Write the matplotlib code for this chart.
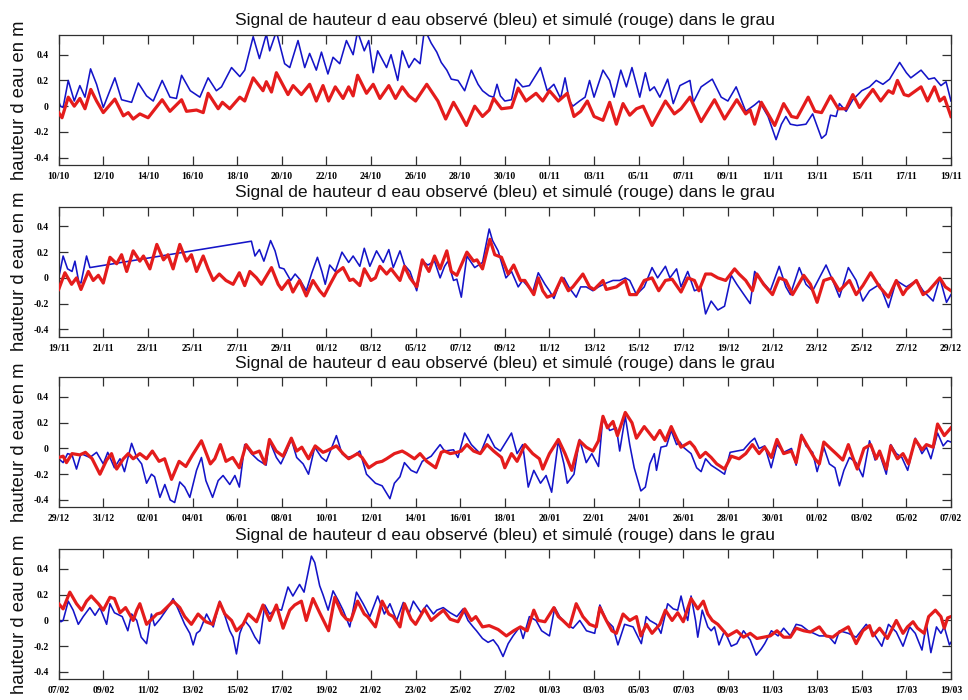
import matplotlib
matplotlib.use("Agg")
import matplotlib.pyplot as plt

TITLE = "Signal de hauteur d eau observé (bleu) et simulé (rouge) dans le grau"
YLABEL = "hauteur d eau en m"
ytick_vals = [-0.4, -0.2, 0, 0.2, 0.4]
ytick_labels = ["-0.4", "-0.2", "0", "0.2", "0.4"]
xtick_days = list(range(0, 41, 2))

xlabels1 = ["10/10", "12/10", "14/10", "16/10", "18/10", "20/10", "22/10", "24/10", "26/10", "28/10", "30/10",
            "01/11", "03/11", "05/11", "07/11", "09/11", "11/11", "13/11", "15/11", "17/11", "19/11"]
xlabels2 = ["19/11", "21/11", "23/11", "25/11", "27/11", "29/11", "01/12", "03/12", "05/12", "07/12", "09/12",
            "11/12", "13/12", "15/12", "17/12", "19/12", "21/12", "23/12", "25/12", "27/12", "29/12"]
xlabels3 = ["29/12", "31/12", "02/01", "04/01", "06/01", "08/01", "10/01", "12/01", "14/01", "16/01", "18/01",
            "20/01", "22/01", "24/01", "26/01", "28/01", "30/01", "01/02", "03/02", "05/02", "07/02"]
xlabels4 = ["07/02", "09/02", "11/02", "13/02", "15/02", "17/02", "19/02", "21/02", "23/02", "25/02", "27/02",
            "01/03", "03/03", "05/03", "07/03", "09/03", "11/03", "13/03", "15/03", "17/03", "19/03"]

# (day offset from panel start, water level in m)
sim1 = [(0,-0.05),(0.15,-0.09),(0.43,0.07),(0.7,0.0),(0.95,0.06),(1.18,-0.02),(1.44,0.13),(1.7,0.04),(2.0,-0.05),(2.52,0.055),
        (2.9,-0.075),(3.12,-0.05),(3.34,-0.10),(3.64,-0.06),(4.01,-0.09),(4.64,0.05),(4.99,-0.04),(5.51,0.05),(5.73,-0.04),(6.18,-0.03),
        (6.48,-0.05),(6.7,0.10),(7.15,-0.02),(7.34,0.03),(7.67,-0.02),(8.12,0.07),(8.34,0.04),(8.72,0.22),(9.16,0.12),(9.31,0.19),
        (9.54,0.11),(9.76,0.26),(10.28,0.09),(10.51,0.16),(10.88,0.09),(11.25,0.17),(11.55,0.04),(11.85,0.16),(12.1,0.04),(12.4,0.15),
        (12.75,0.06),(13.0,0.15),(13.2,0.08),(13.4,0.24),(13.8,0.10),(14.1,0.17),(14.4,0.06),(14.8,0.16),(15.1,0.06),(15.4,0.15),
        (15.7,0.08),(16.0,0.04),(16.5,0.17),(17.0,0.04),(17.35,-0.10),(17.7,0.03),(18.0,-0.06),(18.28,-0.15),(18.65,0.0),(19.0,-0.08),
        (19.3,-0.03),(19.5,0.06),(19.85,-0.02),(20.3,-0.01),(20.6,0.14),(20.95,0.04),(21.4,0.10),(21.7,0.04),(22.0,0.12),(22.4,0.04),
        (22.8,0.10),(23.1,-0.08),(23.4,-0.04),(23.7,0.04),(24.0,-0.08),(24.4,-0.11),(24.7,0.03),(25.0,-0.14),(25.3,0.02),(25.6,-0.07),
        (25.9,-0.02),(26.2,0.0),(26.6,-0.15),(27.2,0.04),(27.6,-0.06),(27.9,-0.02),(28.3,0.07),(28.8,-0.12),(29.4,0.05),(29.85,-0.10),
        (30.4,0.05),(30.8,-0.06),(31.0,-0.03),(31.2,-0.14),(31.5,0.03),(32.1,-0.15),(32.5,0.02),(32.85,-0.08),(33.1,-0.09),(33.6,0.07),
        (33.9,-0.04),(34.2,-0.05),(34.6,0.08),(34.95,-0.02),(35.3,-0.02),(35.6,0.09),(35.9,-0.01),(36.1,0.04),(36.5,0.13),(36.85,0.04),
        (37.2,0.12),(37.4,0.10),(37.6,0.20),(37.9,0.09),(38.1,0.08),(38.66,0.15),(38.95,0.04),(39.26,0.15),(39.5,0.04),(39.7,0.07),(40.0,-0.08)]

obs1 = [(0,0.04),(0.08,0.0),(0.2,-0.01),(0.43,0.2),(0.7,0.04),(0.95,0.16),(1.18,0.07),(1.43,0.29),(1.7,0.17),(2.0,-0.01),
        (2.52,0.22),(2.82,0.05),(3.05,0.04),(3.27,0.03),(3.57,0.18),(3.94,0.08),(4.24,0.04),(4.64,0.2),(4.99,0.07),(5.28,0.06),
        (5.51,0.24),(5.9,0.12),(6.33,0.07),(6.7,0.22),(7.07,0.12),(7.3,0.15),(7.75,0.3),(8.12,0.23),(8.34,0.28),(8.72,0.54),
        (9.0,0.37),(9.31,0.56),(9.46,0.43),(9.76,0.58),(10.13,0.33),(10.36,0.3),(10.73,0.51),(11.03,0.3),(11.25,0.41),(11.55,0.28),
        (11.78,0.42),(12.07,0.25),(12.3,0.38),(12.6,0.33),(12.9,0.51),(13.2,0.4),(13.4,0.58),(13.7,0.43),(13.9,0.51),(14.1,0.26),
        (14.3,0.43),(14.7,0.3),(14.9,0.4),(15.2,0.2),(15.4,0.43),(15.7,0.3),(15.95,0.37),(16.2,0.33),(16.4,0.6),(16.7,0.49),
        (16.95,0.42),(17.15,0.34),(17.4,0.28),(17.6,0.21),(17.9,0.2),(18.2,0.12),(18.5,0.28),(18.8,0.17),(19.0,0.12),(19.3,0.08),
        (19.5,0.07),(19.65,0.17),(19.8,0.08),(20.0,0.04),(20.3,0.05),(20.5,0.21),(20.8,0.15),(21.1,0.16),(21.6,0.3),(21.9,0.12),
        (22.2,0.17),(22.5,0.06),(22.7,0.22),(22.9,0.04),(23.05,0.0),(23.35,0.04),(23.6,0.07),(23.8,0.2),(24.0,0.07),(24.4,0.28),
        (24.7,0.2),(24.9,0.07),(25.2,0.28),(25.45,0.15),(25.7,0.3),(26.05,0.07),(26.3,0.26),(26.5,0.12),(26.7,0.15),(26.95,0.07),
        (27.3,0.21),(27.55,0.02),(27.85,0.16),(28.3,0.2),(28.45,0.03),(28.8,0.15),(29.3,0.21),(29.7,0.07),(30.0,0.04),(30.37,0.15),
        (30.8,-0.04),(31.2,0.01),(31.4,0.04),(31.8,-0.08),(32.16,-0.26),(32.4,-0.14),(32.6,-0.08),(32.8,-0.14),(33.1,-0.15),(33.5,-0.14),
        (33.8,-0.06),(34.2,-0.25),(34.4,-0.22),(34.6,-0.07),(34.85,-0.08),(35.0,0.02),(35.3,-0.04),(35.6,0.05),(36.0,0.12),(36.35,0.15),
        (36.65,0.2),(36.95,0.17),(37.25,0.21),(37.7,0.34),(38.0,0.26),(38.2,0.22),(38.66,0.28),(39.0,0.21),(39.26,0.22),(39.55,0.16),
        (39.78,0.19),(40.0,0.04)]

sim2 = [(0,-0.09),(0.28,0.04),(0.58,-0.05),(0.8,0.0),(1.0,-0.09),(1.33,0.05),(1.55,-0.02),(1.78,0.02),(2.0,-0.04),(2.3,0.16),
        (2.6,0.11),(2.82,0.18),(3.05,0.05),(3.34,0.21),(3.64,0.13),(3.8,0.17),(4.09,0.07),(4.4,0.26),(4.7,0.14),(4.9,0.18),
        (5.13,0.07),(5.43,0.26),(5.73,0.13),(5.95,0.18),(6.18,0.05),(6.48,0.17),(6.7,0.07),(6.93,-0.02),(7.2,0.03),(7.5,-0.02),
        (7.82,-0.05),(8.1,0.04),(8.34,-0.06),(8.57,0.05),(8.87,0.0),(9.09,-0.05),(9.54,0.08),(9.84,-0.05),(10.0,-0.09),(10.3,-0.02),
        (10.5,-0.11),(10.8,-0.02),(11.1,-0.14),(11.4,-0.02),(11.7,-0.1),(11.9,-0.14),(12.2,-0.04),(12.45,0.04),(12.75,0.08),(13.05,-0.02),
        (13.2,-0.01),(13.5,-0.06),(13.7,0.07),(14.0,-0.02),(14.2,0.0),(14.4,0.09),(14.7,0.03),(14.9,0.07),(15.3,-0.02),(15.5,0.09),
        (15.75,0.0),(16.05,-0.07),(16.3,0.14),(16.6,0.05),(16.85,0.17),(17.1,0.07),(17.4,0.21),(17.6,0.05),(17.85,0.02),(18.3,0.2),
        (18.6,0.13),(18.75,0.14),(19.0,0.07),(19.33,0.3),(19.55,0.18),(19.85,0.16),(20.15,0.03),(20.4,0.1),(20.7,-0.02),(20.9,-0.02),
        (21.3,-0.13),(21.5,0.0),(21.7,-0.1),(21.9,-0.15),(22.2,-0.13),(22.55,0.0),(22.85,-0.1),(23.05,-0.07),(23.5,0.03),(23.8,-0.07),
        (24.0,-0.09),(24.4,-0.02),(24.55,-0.09),(25.0,-0.07),(25.4,-0.02),(25.6,-0.13),(25.9,-0.13),(26.25,-0.02),(26.6,0.0),(26.9,-0.1),
        (27.2,-0.02),(27.5,-0.01),(27.9,-0.11),(28.2,0.0),(28.5,-0.02),(28.7,-0.1),(29.0,0.03),(29.25,0.03),(29.55,0.0),(29.9,-0.02),
        (30.3,0.07),(30.5,0.03),(30.8,-0.02),(31.1,-0.1),(31.3,0.03),(31.6,-0.05),(32.0,-0.13),(32.3,0.0),(32.6,-0.02),(32.9,-0.13),
        (33.4,0.02),(33.7,-0.05),(34.0,-0.19),(34.3,-0.02),(34.65,0.0),(35.0,-0.1),(35.45,-0.02),(35.75,-0.13),(36.05,-0.06),(36.4,0.04),
        (36.8,-0.07),(37.2,-0.15),(37.55,-0.02),(37.85,-0.13),(38.0,-0.09),(38.45,-0.02),(38.75,-0.13),(39.0,-0.1),(39.5,0.0),(39.75,-0.07),
        (40.0,-0.1)]

obs2 = [(0,0.0),(0.05,0.04),(0.2,0.17),(0.4,0.07),(0.6,0.05),(0.73,0.13),(0.9,-0.03),(1.0,-0.04),(1.25,0.17),(1.4,0.08),
        (8.64,0.285),(8.8,0.17),(9.0,0.22),(9.2,0.13),(9.5,0.29),(9.7,0.21),(9.9,0.08),(10.1,0.07),(10.4,-0.02),(10.6,0.03),
        (10.8,-0.01),(11.1,-0.1),(11.35,0.04),(11.6,0.16),(11.8,0.05),(11.95,-0.05),(12.15,0.1),(12.4,0.05),(12.7,0.2),(13.0,0.12),
        (13.2,0.17),(13.5,0.09),(13.7,0.23),(13.95,0.09),(14.25,0.21),(14.55,0.12),(14.8,0.22),(15.0,0.08),(15.3,0.21),(15.5,0.1),
        (15.75,0.05),(16.05,-0.1),(16.3,0.13),(16.55,0.1),(16.85,0.13),(17.1,0.0),(17.3,0.09),(17.45,0.13),(17.7,-0.02),(17.85,-0.01),
        (18.05,-0.15),(18.3,0.17),(18.65,0.08),(19.0,0.12),(19.3,0.38),(19.45,0.29),(19.7,0.21),(19.85,0.12),(20.05,0.0),(20.3,0.05),
        (20.6,-0.07),(20.8,-0.02),(21.25,-0.11),(21.5,0.04),(21.8,-0.05),(22.0,-0.1),(22.2,-0.16),(22.5,-0.02),(22.65,0.0),(22.9,-0.08),
        (23.2,-0.15),(23.4,-0.07),(23.65,-0.07),(23.95,-0.1),(24.2,-0.07),(24.55,-0.04),(24.85,-0.02),(25.15,-0.02),(25.4,0.0),(25.6,-0.02),
        (25.9,-0.13),(26.25,-0.07),(26.6,0.08),(26.85,0.0),(27.2,0.09),(27.4,0.0),(27.7,0.07),(27.9,-0.07),(28.2,0.05),(28.5,-0.1),
        (28.8,-0.08),(29.0,-0.28),(29.25,-0.18),(29.55,-0.25),(29.85,-0.22),(30.15,0.02),(30.4,-0.05),(30.6,-0.1),(31.0,-0.2),(31.2,0.05),
        (31.5,-0.02),(31.9,-0.1),(32.3,0.09),(32.6,-0.07),(32.8,-0.13),(33.2,0.08),(33.5,-0.05),(33.8,-0.1),(34.4,0.1),(34.7,-0.02),
        (35.0,-0.15),(35.4,0.08),(35.75,-0.02),(36.05,-0.18),(36.35,-0.1),(36.8,-0.05),(37.2,-0.23),(37.55,-0.02),(38.0,-0.07),(38.45,-0.02),
        (38.75,-0.1),(39.2,-0.18),(39.5,0.0),(39.8,-0.19),(40.0,-0.13)]

sim3 = [(0,-0.07),(0.2,-0.06),(0.35,-0.11),(0.6,-0.04),(0.95,-0.05),(1.2,-0.03),(1.5,-0.08),(1.85,-0.2),(2.15,-0.09),(2.37,-0.04),
        (2.6,-0.16),(2.9,-0.08),(3.12,-0.04),(3.34,-0.08),(3.64,-0.04),(3.94,-0.08),(4.2,-0.02),(4.5,-0.1),(4.75,-0.08),(5.06,-0.24),
        (5.4,-0.1),(5.7,-0.14),(6.0,-0.05),(6.4,0.06),(6.8,-0.12),(7.0,-0.08),(7.25,0.03),(7.5,-0.1),(7.8,-0.07),(8.1,-0.15),
        (8.4,0.03),(8.7,-0.04),(9.0,-0.02),(9.25,-0.12),(9.45,0.07),(9.75,-0.02),(10.06,-0.06),(10.43,0.08),(10.67,-0.02),(10.9,0.01),
        (11.2,-0.08),(11.5,0.02),(11.85,-0.03),(12.0,-0.02),(12.45,0.02),(12.75,-0.04),(13.0,-0.08),(13.4,-0.04),(13.6,-0.07),(13.9,-0.15),
        (14.25,-0.11),(14.5,-0.1),(14.7,-0.08),(15.05,-0.04),(15.4,-0.02),(15.6,-0.04),(15.95,-0.08),(16.2,-0.04),(16.5,-0.1),(16.9,-0.15),
        (17.15,-0.03),(17.3,-0.02),(17.55,-0.04),(17.85,-0.03),(18.05,-0.02),(18.3,0.03),(18.6,-0.02),(18.9,-0.04),(19.2,0.03),(19.5,-0.02),
        (19.85,-0.07),(20.0,-0.15),(20.3,-0.04),(20.55,-0.1),(20.9,0.03),(21.25,-0.04),(21.55,-0.08),(21.7,-0.16),(22.0,-0.04),(22.4,0.07),
        (22.7,-0.04),(23.0,-0.17),(23.35,0.06),(23.65,0.01),(23.95,-0.02),(24.2,0.06),(24.4,0.25),(24.6,0.16),(24.85,0.21),(25.05,0.1),
        (25.4,0.28),(25.7,0.2),(25.9,0.08),(26.25,0.17),(26.7,0.07),(26.95,0.14),(27.2,0.06),(27.46,0.17),(27.7,0.08),(27.9,0.01),
        (28.3,0.05),(28.5,0.01),(28.75,-0.07),(29.0,-0.03),(29.25,-0.07),(29.5,-0.12),(29.85,-0.16),(30.15,-0.06),(30.5,-0.08),(30.8,-0.04),
        (31.1,0.03),(31.4,-0.04),(31.65,0.01),(31.95,-0.07),(32.2,0.07),(32.5,-0.04),(32.85,-0.02),(33.06,-0.11),(33.3,0.1),(33.6,0.01),
        (33.9,-0.08),(34.1,-0.12),(34.3,0.05),(34.6,0.0),(34.85,-0.04),(35.15,-0.09),(35.4,0.03),(35.6,-0.07),(35.8,-0.16),(36.1,0.0),
        (36.4,0.03),(36.65,-0.08),(36.8,-0.02),(37.1,-0.16),(37.3,0.02),(37.6,-0.08),(37.85,-0.04),(38.1,-0.12),(38.4,0.07),(38.7,-0.01),
        (38.9,0.03),(39.2,0.01),(39.4,0.19),(39.7,0.1),(40.0,0.16)]

obs3 = [(0,-0.08),(0.2,-0.11),(0.4,-0.04),(0.6,-0.05),(0.8,-0.16),(1.0,-0.04),(1.4,-0.07),(1.7,-0.03),(2.0,-0.12),(2.2,-0.03),
        (2.5,-0.15),(2.75,-0.08),(2.95,-0.18),(3.27,0.04),(3.5,-0.07),(3.72,-0.12),(3.94,-0.27),(4.16,-0.2),(4.3,-0.22),(4.54,-0.38),
        (4.76,-0.28),(5.0,-0.4),(5.2,-0.42),(5.43,-0.26),(5.65,-0.3),(5.88,-0.38),(6.18,-0.17),(6.4,-0.07),(6.6,-0.25),(6.9,-0.38),
        (7.15,-0.25),(7.37,-0.21),(7.67,-0.28),(7.9,-0.21),(8.1,-0.3),(8.34,0.03),(8.64,-0.04),(8.94,-0.09),(9.3,-0.13),(9.45,0.06),
        (9.76,-0.07),(9.96,-0.12),(10.2,-0.03),(10.43,0.07),(10.67,-0.07),(10.96,-0.12),(11.2,-0.2),(11.48,0.01),(11.78,-0.07),(12.0,-0.1),
        (12.45,0.1),(12.7,-0.04),(12.9,-0.07),(13.2,-0.06),(13.5,-0.02),(13.8,-0.2),(14.2,-0.27),(14.5,-0.29),(14.85,-0.39),(15.05,-0.27),
        (15.3,-0.22),(15.5,-0.11),(15.8,-0.17),(16.05,-0.19),(16.3,-0.1),(16.7,-0.06),(17.1,0.03),(17.3,-0.02),(17.7,-0.01),(17.9,-0.07),
        (18.2,0.12),(18.5,0.03),(18.9,-0.04),(19.25,0.11),(19.55,0.01),(19.8,-0.02),(20.3,0.12),(20.55,-0.04),(20.8,0.03),(21.05,-0.3),
        (21.3,-0.17),(21.6,-0.27),(21.85,-0.21),(22.1,-0.34),(22.4,0.06),(22.65,-0.12),(22.8,-0.27),(23.1,-0.2),(23.35,0.07),(23.65,-0.11),
        (23.9,-0.04),(24.2,-0.14),(24.4,0.25),(24.7,0.14),(25.0,0.16),(25.15,-0.02),(25.4,0.25),(25.6,0.03),(25.8,-0.15),(26.1,-0.33),
        (26.3,-0.3),(26.5,-0.12),(26.7,-0.04),(26.8,-0.17),(27.0,0.01),(27.25,0.02),(27.46,0.14),(27.7,0.03),(27.85,0.05),(28.0,0.01),
        (28.35,-0.04),(28.6,-0.15),(28.8,-0.18),(29.0,-0.08),(29.25,-0.13),(29.6,-0.17),(29.85,-0.2),(30.1,-0.03),(30.4,-0.02),(30.7,-0.01),
        (31.0,0.05),(31.2,0.08),(31.4,0.0),(31.65,0.02),(31.94,-0.15),(32.2,0.03),(32.5,-0.03),(32.85,0.0),(33.06,-0.13),(33.3,0.11),
        (33.5,0.02),(33.8,-0.03),(34.0,-0.18),(34.3,0.01),(34.55,-0.12),(34.8,-0.15),(35.0,-0.29),(35.2,-0.17),(35.45,-0.07),(35.75,-0.11),
        (36.05,-0.22),(36.35,0.06),(36.6,-0.09),(36.8,-0.04),(37.1,-0.2),(37.3,0.03),(37.55,-0.04),(37.8,-0.07),(38.06,-0.17),(38.4,0.08),
        (38.7,-0.04),(38.9,0.01),(39.1,-0.08),(39.4,0.12),(39.65,0.02),(39.85,0.06),(40.0,0.05)]

sim4 = [(0,0.13),(0.2,0.09),(0.5,0.22),(0.8,0.13),(1.03,0.08),(1.25,0.15),(1.46,0.19),(1.78,0.13),(2.0,0.08),(2.3,0.18),
        (2.5,0.17),(2.75,0.06),(3.0,0.1),(3.34,0.0),(3.5,0.08),(3.64,0.13),(3.94,-0.03),(4.4,0.05),(4.6,0.06),(4.84,0.1),
        (5.13,0.15),(5.43,0.1),(5.65,0.03),(5.95,-0.03),(6.25,0.05),(6.6,-0.01),(6.9,-0.03),(7.22,0.14),(7.45,0.05),(7.75,0.0),
        (7.97,-0.08),(8.27,-0.03),(8.5,0.05),(8.87,-0.01),(9.16,0.12),(9.46,0.0),(9.76,0.12),(10.06,-0.06),(10.36,0.08),(10.58,0.12),
        (10.88,0.15),(11.1,0.0),(11.4,0.17),(11.7,0.06),(12.1,-0.08),(12.38,0.18),(12.7,0.05),(12.9,0.01),(13.1,0.0),(13.4,0.15),
        (13.7,0.05),(13.85,0.03),(14.2,-0.05),(14.5,0.15),(14.8,0.05),(15.0,0.03),(15.3,-0.05),(15.5,0.13),(15.8,0.01),(16.0,-0.03),
        (16.4,0.09),(16.7,0.0),(16.9,0.03),(17.25,0.08),(17.55,0.01),(17.9,-0.01),(18.2,0.09),(18.5,0.0),(18.7,0.03),(19.0,-0.05),
        (19.3,-0.04),(19.7,-0.07),(20.07,-0.12),(20.4,-0.08),(20.7,-0.05),(21.0,-0.08),(21.3,0.08),(21.5,0.0),(21.8,-0.01),(22.2,0.1),
        (22.4,0.03),(22.6,0.0),(22.9,-0.05),(23.2,0.13),(23.5,0.03),(23.8,-0.03),(24.1,-0.05),(24.26,0.1),(24.55,0.0),(24.8,-0.08),
        (25.0,-0.1),(25.3,0.05),(25.6,0.0),(25.9,0.03),(26.1,-0.12),(26.35,-0.03),(26.6,-0.1),(26.95,-0.03),(27.2,0.08),(27.5,0.0),
        (27.75,0.06),(28.0,-0.01),(28.35,0.17),(28.65,0.09),(28.9,0.15),(29.1,0.05),(29.3,0.0),(29.55,-0.03),(29.8,-0.08),(30.0,-0.12),
        (30.4,-0.08),(30.7,-0.13),(31.0,-0.1),(31.3,-0.14),(31.6,-0.13),(31.9,-0.12),(32.2,-0.08),(32.5,-0.13),(32.8,-0.13),(33.06,-0.06),
        (33.4,-0.08),(33.7,-0.09),(34.1,-0.05),(34.4,-0.12),(34.7,-0.13),(35.0,-0.09),(35.4,-0.05),(35.75,-0.18),(36.05,-0.08),(36.35,-0.04),
        (36.5,-0.12),(36.8,-0.06),(37.15,-0.14),(37.55,0.0),(37.85,-0.1),(38.05,-0.05),(38.3,-0.01),(38.5,-0.06),(38.8,-0.1),(39.0,0.03),
        (39.3,0.08),(39.55,0.03),(39.7,-0.06),(39.85,0.02),(40.0,0.03)]

obs4 = [(0,0.01),(0.1,-0.01),(0.2,0.0),(0.43,0.15),(0.65,0.08),(0.88,-0.03),(1.1,0.03),(1.4,0.1),(1.63,0.04),(1.85,0.1),
        (2.15,-0.03),(2.3,0.13),(2.5,0.06),(2.85,0.03),(3.1,-0.08),(3.27,0.05),(3.5,0.0),(3.7,-0.13),(3.94,-0.18),(4.16,0.05),
        (4.3,-0.04),(4.54,0.01),(4.9,0.1),(5.13,0.17),(5.35,0.09),(5.5,0.03),(5.65,-0.03),(5.88,-0.1),(6.03,-0.19),(6.18,-0.1),
        (6.33,-0.08),(6.63,0.05),(6.93,-0.05),(7.22,0.15),(7.37,0.08),(7.67,-0.08),(7.82,-0.13),(7.97,-0.26),(8.12,-0.1),(8.34,0.0),
        (8.57,-0.05),(8.8,-0.13),(9.0,-0.18),(9.24,0.12),(9.46,0.05),(9.76,0.09),(9.99,0.08),(10.28,0.26),(10.5,0.19),(10.8,0.28),
        (11.0,0.22),(11.33,0.5),(11.48,0.45),(11.7,0.27),(11.85,0.2),(12.08,0.08),(12.3,0.23),(12.55,0.15),(12.75,0.08),(13.05,-0.05),
        (13.35,0.22),(13.65,0.13),(13.95,0.03),(14.3,0.19),(14.6,0.05),(14.85,0.13),(15.15,0.0),(15.45,0.14),(15.7,0.05),(15.9,0.15),
        (16.25,0.06),(16.5,0.12),(16.8,0.05),(16.95,0.08),(17.24,0.1),(17.55,0.06),(17.85,0.03),(18.13,0.09),(18.35,0.0),(18.58,-0.05),
        (18.73,-0.08),(19.0,-0.14),(19.25,-0.17),(19.48,-0.15),(19.7,-0.2),(19.92,-0.28),(20.15,-0.18),(20.37,-0.12),(20.67,-0.05),(20.82,-0.14),
        (21.1,0.03),(21.4,0.0),(21.65,-0.08),(22.0,-0.12),(22.24,0.1),(22.46,0.03),(22.76,-0.03),(23.06,-0.06),(23.36,0.0),(23.66,-0.08),
        (24.03,-0.1),(24.26,0.12),(24.56,0.0),(24.85,-0.05),(25.07,-0.19),(25.37,-0.03),(25.75,-0.05),(26.12,-0.18),(26.34,0.03),(26.5,0.0),
        (26.8,-0.03),(27.0,-0.1),(27.3,0.13),(27.55,0.09),(27.75,0.08),(27.9,0.19),(28.05,0.08),(28.2,0.0),(28.35,0.19),(28.55,0.0),
        (28.65,-0.13),(28.85,0.08),(29.1,-0.05),(29.25,-0.08),(29.4,-0.05),(29.6,-0.19),(29.85,-0.08),(30.15,-0.2),(30.4,-0.18),(30.7,-0.08),
        (31.0,-0.15),(31.27,-0.27),(31.5,-0.22),(31.65,-0.18),(31.95,-0.08),(32.25,-0.12),(32.5,-0.06),(32.8,-0.12),(33.06,-0.03),(33.3,-0.04),
        (33.6,-0.08),(34.1,-0.12),(34.5,-0.12),(34.8,-0.18),(35.0,-0.08),(35.4,-0.1),(35.75,-0.13),(36.2,-0.03),(36.5,-0.09),(36.9,-0.2),
        (37.2,-0.03),(37.55,-0.09),(37.85,-0.2),(38.15,-0.05),(38.4,-0.1),(38.7,-0.23),(38.9,-0.03),(39.1,-0.25),(39.35,-0.05),(39.55,-0.1),
        (39.7,-0.05),(39.93,-0.19),(40.0,-0.17)]

panels = [(xlabels1, obs1, sim1), (xlabels2, obs2, sim2), (xlabels3, obs3, sim3), (xlabels4, obs4, sim4)]

BLUE = "#1414c8"
RED = "#e41c1c"
FRAME = "#303030"

fig = plt.figure(figsize=(9.68, 7.0), dpi=100)
fig.patch.set_facecolor("white")
bottoms = [0.7643, 0.519, 0.2753, 0.0296]
height = 0.1857
left, width = 0.0606, 0.9218

for (labels, obs, sim), b in zip(panels, bottoms):
    ax = fig.add_axes([left, b, width, height])
    to, vo = zip(*obs)
    ts, vs = zip(*sim)
    ax.plot(to, vo, color=BLUE, lw=1.15, zorder=2)
    ax.plot(ts, vs, color=RED, lw=2.3, zorder=3, solid_joinstyle="round")
    ax.set_xlim(0, 40)
    ax.set_ylim(-0.457, 0.553)
    ax.set_xticks(xtick_days)
    ax.set_xticklabels(labels)
    ax.set_yticks(ytick_vals)
    ax.set_yticklabels(ytick_labels)
    ax.tick_params(direction="in", length=6.2, width=0.9, color=FRAME,
                   top=True, right=True, labelsize=7.0)
    ax.tick_params(axis="y", pad=7.0)
    ax.tick_params(axis="x", pad=5.0)
    for lab in ax.get_xticklabels() + ax.get_yticklabels():
        lab.set_family("Liberation Serif")
        lab.set_weight("bold")
    for sp in ax.spines.values():
        sp.set_color(FRAME)
        sp.set_linewidth(0.9)
    ax.set_title(TITLE, fontsize=12.6, family="Liberation Sans", pad=7.0, color="#111111")
    yc = b + height / 2
    fig.text(0.0201, yc, YLABEL, rotation=90, ha="center", va="center",
             fontsize=13.2, family="Liberation Sans", color="#111111")

fig.savefig("out.png", dpi=100)
